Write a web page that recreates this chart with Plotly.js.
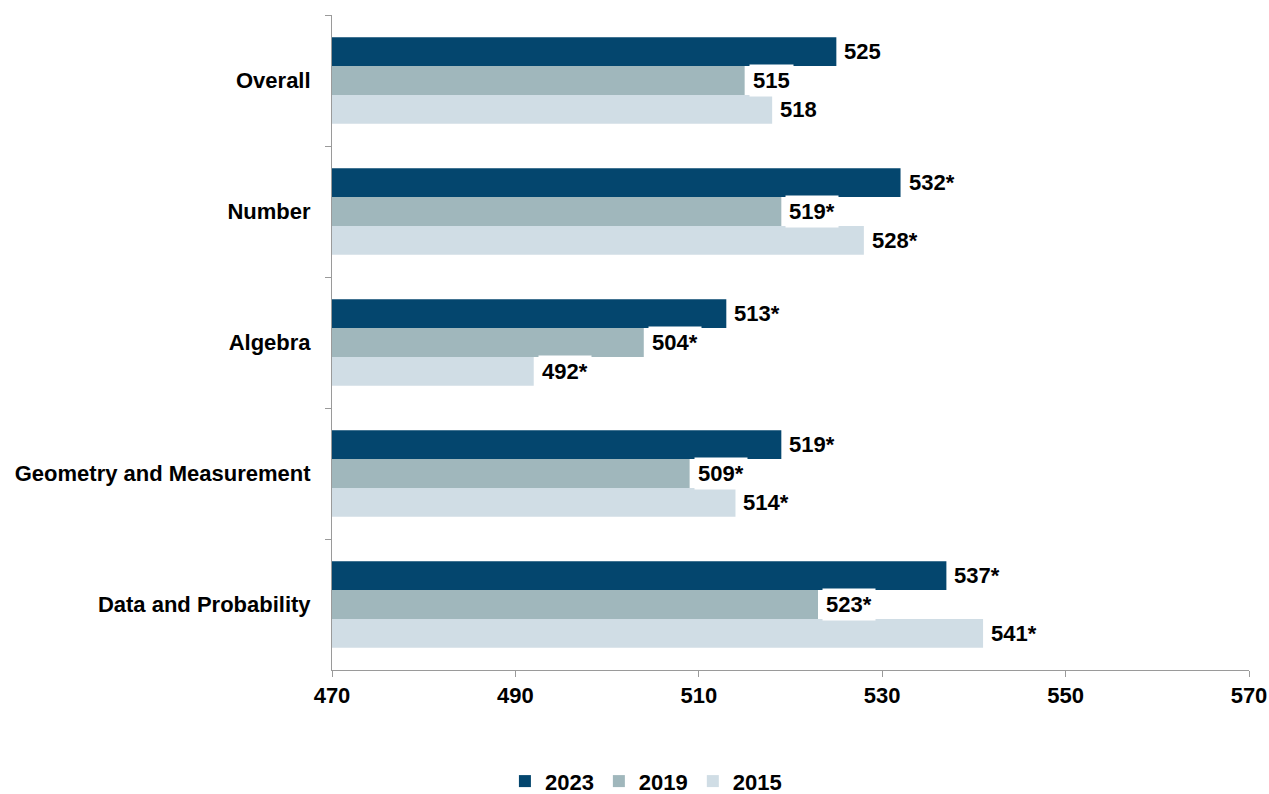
<!DOCTYPE html>
<html>
<head>
<meta charset="utf-8">
<script src="https://cdn.plot.ly/plotly-3.0.1.min.js"></script>
<style>html,body{margin:0;padding:0;background:#fff;}#chart{width:1269px;height:794px;}</style>
</head>
<body>
<div id="chart"></div>
<script>
const categories = ["Overall", "Number", "Algebra", "Geometry and Measurement", "Data and Probability"];
const years = ["2023", "2019", "2015"];
const scores2023 = [525, 532, 513, 519, 537];
const scores2019 = [515, 519, 504, 509, 523];
const scores2015 = [518, 528, 492, 514, 541];
const sig2023 = [false, true, true, true, true];
const sig2019 = [false, true, true, true, true];
const sig2015 = [false, true, true, true, true];
const xTicks = [470, 490, 510, 530, 550, 570];

const colors = ["#04466e", "#a0b7bc", "#d0dde5"];
const series = [scores2023, scores2019, scores2015];
const sigs = [sig2023, sig2019, sig2015];
const FONT = "Arial, 'Liberation Sans', sans-serif";
const FS = 22;
const bargap = 0.34;
const barW = (1 - bargap) / years.length;

const traces = years.map((y, k) => ({
  type: "bar",
  orientation: "h",
  name: y,
  y: categories,
  x: series[k],
  marker: {color: colors[k], line: {width: 0}},
  hoverinfo: "x+name"
}));

const annotations = [];
series.forEach((vals, k) => {
  vals.forEach((v, i) => {
    annotations.push({
      x: v,
      y: i + (k - (years.length - 1) / 2) * barW,
      xref: "x", yref: "y",
      text: v + (sigs[k][i] ? "*" : ""),
      showarrow: false,
      xanchor: "left",
      yanchor: "middle",
      xshift: 4,
      bgcolor: "#ffffff",
      borderpad: 3,
      font: {family: FONT, size: FS, color: "#000", weight: "bold"}
    });
  });
});

const layout = {
  width: 1269,
  height: 794,
  paper_bgcolor: "#fff",
  plot_bgcolor: "#fff",
  margin: {l: 332, r: 20, t: 15, b: 124},
  barmode: "group",
  bargap: bargap,
  bargroupgap: 0,
  font: {family: FONT, size: FS, color: "#000", weight: "bold"},
  xaxis: {
    range: [470, 570],
    tickvals: xTicks,
    ticktext: xTicks.map(String),
    showgrid: false,
    zeroline: false,
    showline: true,
    linecolor: "#9a9a9a",
    linewidth: 1,
    ticks: "outside",
    ticklen: 6,
    tickcolor: "#9a9a9a",
    tickfont: {family: FONT, size: FS, color: "#000", weight: "bold"}
  },
  yaxis: {
    type: "category",
    autorange: "reversed",
    showgrid: false,
    zeroline: false,
    showline: true,
    linecolor: "#9a9a9a",
    linewidth: 1,
    ticks: "outside",
    tickson: "boundaries",
    ticklen: 6,
    tickcolor: "#9a9a9a",
    ticklabelstandoff: 16,
    tickfont: {family: FONT, size: FS, color: "#000", weight: "bold"}
  },
  showlegend: true,
  legend: {
    orientation: "h",
    xref: "container", yref: "container",
    x: 0.509, xanchor: "center",
    y: 0.016, yanchor: "middle",
    font: {family: FONT, size: FS, color: "#000", weight: "bold"},
    itemwidth: 30,
    traceorder: "normal"
  },
  annotations: annotations
};

Plotly.newPlot("chart", traces, layout, {displayModeBar: false, staticPlot: true});
</script>
</body>
</html>
